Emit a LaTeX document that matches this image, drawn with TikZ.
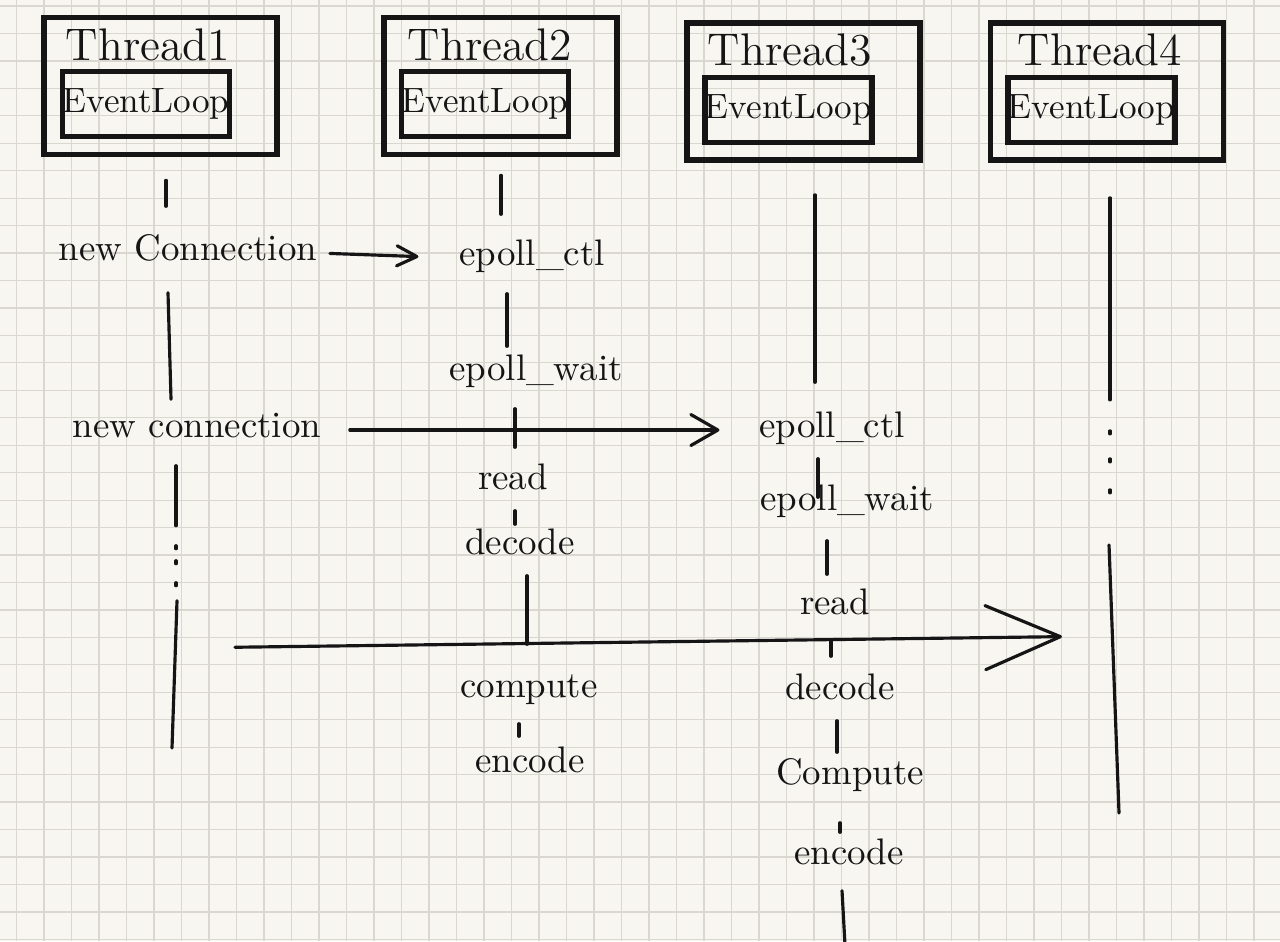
\documentclass[tikz,border=0pt]{standalone}
\usepackage{tikz}
\usetikzlibrary{arrows.meta}
\usetikzlibrary{calc}

\definecolor{paper}{HTML}{F8F6F1}
\definecolor{gridline}{HTML}{DAD6D0}
\definecolor{ink}{HTML}{151515}

\begin{document}
\begin{tikzpicture}[x=0.01cm,y=-0.01cm,
		threadbox/.style={draw=ink,line width=1.6pt,minimum width=2.33cm,minimum height=1.37cm,inner sep=0pt},
		loopbox/.style={draw=ink,line width=1.6pt,minimum width=1.65cm,minimum height=0.65cm,inner sep=0pt,text=ink,font=\fontsize{10}{12}\selectfont},
		threadname/.style={inner sep=0pt,text=ink,font=\fontsize{13}{15}\selectfont},
		call/.style={inner sep=0pt,text=ink,text height=0.22cm,text depth=0.08cm,font=\fontsize{10.5}{12}\selectfont},
		life/.style={draw=ink,line width=0.9pt,line cap=round},
		msg/.style={draw=ink,line width=0.9pt,line cap=round,line join=round}]
			%% paper
			\useasboundingbox (0,0) rectangle (1280,941);
			\fill[paper] (0,0) rectangle (1280,941);
			\foreach \i in {0,...,46} \draw[gridline,line width=0.35pt] (16.5+27.5*\i,0) -- (16.5+27.5*\i,941);
			\foreach \j in {0,...,34} \draw[gridline,line width=0.35pt] (0,6+27.45*\j) -- (1280,6+27.45*\j);
			%% threads
			\node[threadbox] (th1) at (160.5,86) {};
			\node[threadname] (tn1) at (148,45) {Thread1};
			\node[loopbox] (el1) at (146,104) {EventLoop};
			\node[threadbox] (th2) at (500.5,86) {};
			\node[threadname] (tn2) at (490,45) {Thread2};
			\node[loopbox] (el2) at (485,104) {EventLoop};
			\node[threadbox] (th3) at (803.5,91.5) {};
			\node[threadname] (tn3) at (790,50) {Thread3};
			\node[loopbox] (el3) at (788.5,110) {EventLoop};
			\node[threadbox] (th4) at (1107,91.5) {};
			\node[threadname] (tn4) at (1100,50) {Thread4};
			\node[loopbox] (el4) at (1091.5,110) {EventLoop};
			%% calls
			\node[call] (nc1) at (188,253) {new Connection};
			\node[call] (nc2) at (197,430) {new connection};
			\node[call] (ctl2) at (532,258) {epoll\_ctl};
			\node[call] (wait2) at (536,373) {epoll\_wait};
			\node[call] (read2) at (513,482) {read};
			\node[call] (dec2) at (520,547) {decode};
			\node[call] (comp2) at (529,690) {compute};
			\node[call] (enc2) at (530,765) {encode};
			\node[call] (ctl3) at (832,430) {epoll\_ctl};
			\node[call] (wait3) at (847,503) {epoll\_wait};
			\node[call] (read3) at (835,607) {read};
			\node[call] (dec3) at (840,692) {decode};
			\node[call] (comp3) at (850,777) {Compute};
			\node[call] (enc3) at (849,857) {encode};
			\coordinate (t1end) at (172,748);
			\coordinate (t3end) at (845,945);
			\coordinate (t4end) at (1119,813);
			\coordinate (send) at (175,648);
			\coordinate (recv) at (1110,636);
			%% lifelines
			\draw[life] ($(th1.south)+(5.5,23)$) -- ($(nc1.north)+(-22,-31)$);
			\draw[life] ($(nc1.south)+(-20,24)$) -- ($(nc2.north)+(-26,-15)$);
			\draw[life] ($(nc2.south)+(-21,20)$) -- ++(0,60);
			\foreach \k in {100,115,137} \draw[life] ($(nc2.south)+(-21,\k)$) -- ++(0,3);
			\draw[life] ($(nc2.south)+(-20,155)$) -- (t1end);
			\draw[life] ($(th2.south)+(0.5,18)$) -- ($(ctl2.north)+(-31,-28)$);
			\draw[life] ($(ctl2.south)+(-25,20)$) -- ($(wait2.north)+(-29,-11)$);
			\draw[life] ($(wait2.south)+(-21,20)$) -- ($(read2.north)+(2,-19)$);
			\draw[life] ($(read2.south)+(2,13)$) -- ($(dec2.north)+(-5,-7)$);
			\draw[life] ($(dec2.south)+(7,13)$) -- ($(comp2.north)+(-2,-30)$);
			\draw[life] ($(comp2.south)+(-10,18)$) -- ($(enc2.north)+(-11,-13)$);
			\draw[life] ($(th3.south)+(11.5,32)$) -- ($(ctl3.north)+(-17,-32)$);
			\draw[life] ($(ctl3.south)+(-14,13)$) -- ($(wait3.north)+(-29,10)$);
			\draw[life] ($(wait3.south)+(-20,22)$) -- ($(read3.north)+(-8,-17)$);
			\draw[life] ($(read3.south)+(-4,18)$) -- ($(dec3.north)+(-9,-20)$);
			\draw[life] ($(dec3.south)+(-3,13)$) -- ($(comp3.north)+(-13,-9)$);
			\draw[life] ($(comp3.south)+(-10,30)$) -- ($(enc3.north)+(-9,-9)$);
			\draw[life] ($(enc3.south)+(-7,18)$) -- (t3end);
			\draw[life] ($(th4.south)+(3,35)$) -- ++(0,202);
			\foreach \k in {268,296,327} \draw[life] ($(th4.south)+(3,\k)$) -- ++(0,3);
			\draw[life] ($(th4.south)+(2,382)$) -- (t4end);
			%% arrows
			\draw[msg,-{Straight Barb[length=0.2cm,width=0.2cm,round]},shorten <=0.12cm,shorten >=0.4cm] (nc1.east) -- (ctl2.west);
			\draw[msg,-{Straight Barb[length=0.27cm,width=0.31cm,round]},shorten <=0.28cm,shorten >=0.39cm] (nc2.east) -- (ctl3.west);
			\draw[msg,-{Straight Barb[length=0.75cm,width=0.64cm,round]},shorten <=0.6cm,shorten >=0.48cm] (send) -- (recv);
		\end{tikzpicture}
\end{document}
